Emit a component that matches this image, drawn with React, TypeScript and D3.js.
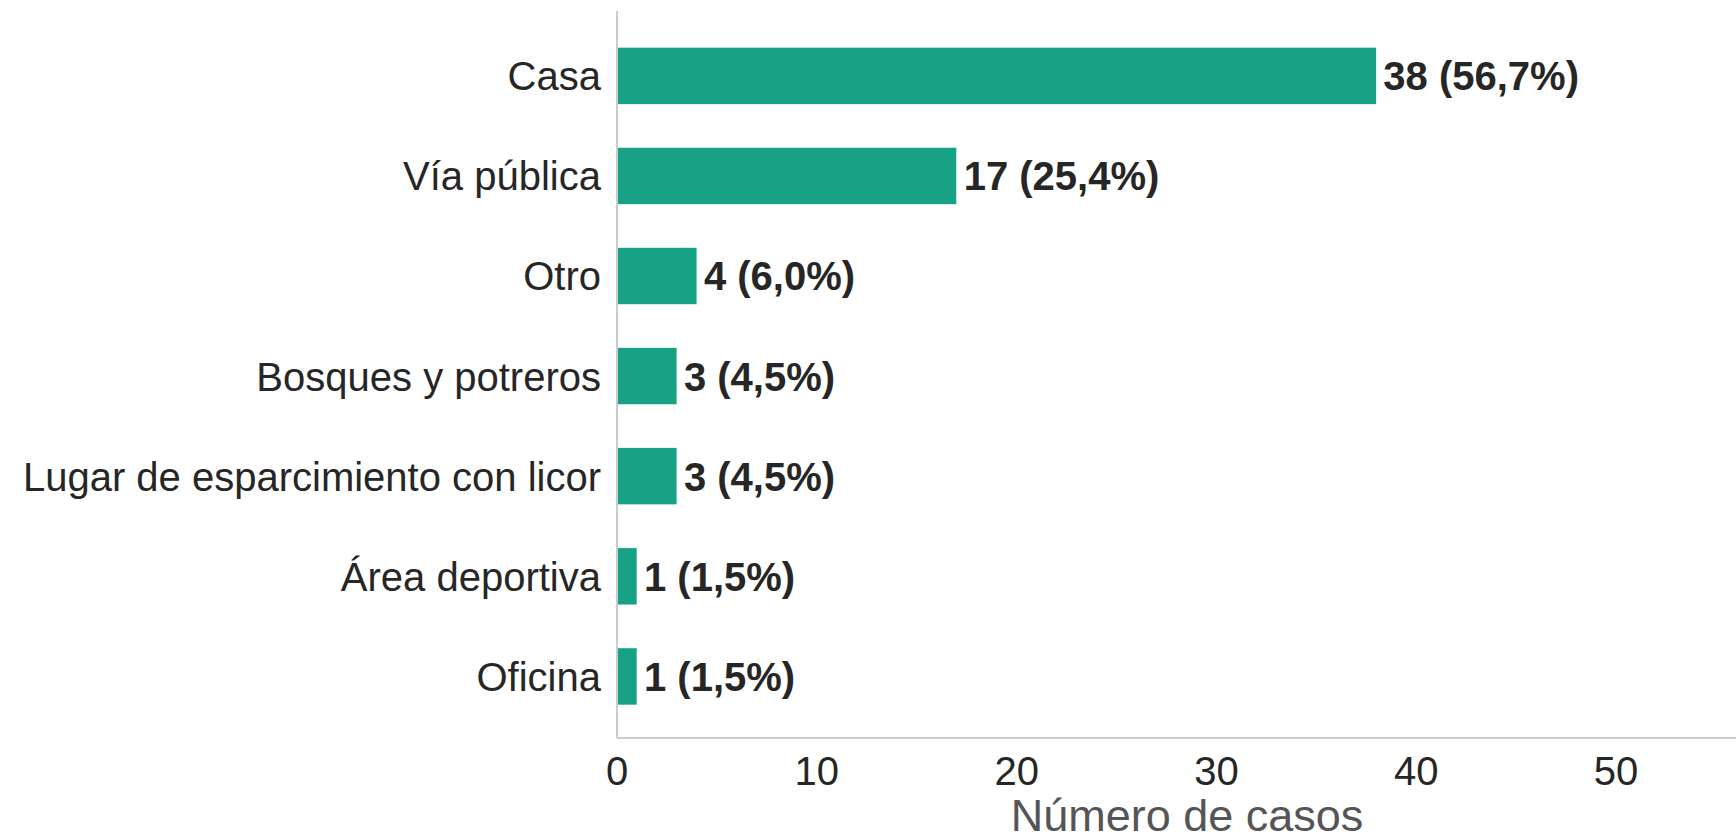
import { useEffect, useRef } from 'react'
import * as d3 from 'd3'

const categories = [
  'Casa',
  'Vía pública',
  'Otro',
  'Bosques y potreros',
  'Lugar de esparcimiento con licor',
  'Área deportiva',
  'Oficina',
]
const counts = [38, 17, 4, 3, 3, 1, 1]
const xTicks = [0, 10, 20, 30, 40, 50]

const W = 1736
const H = 838
const FONT = '"Liberation Sans", Arial, sans-serif'

export default function App() {
  const svgRef = useRef<SVGSVGElement | null>(null)

  useEffect(() => {
    if (!svgRef.current) return
    const svg = d3.select(svgRef.current)
    svg.selectAll('*').remove()

    const left = 617
    const top = 11
    const bottom = 738

    const total = d3.sum(counts)
    const data = categories.map((c, i) => ({ cat: c, n: counts[i], pct: (counts[i] / total) * 100 }))

    const x = d3.scaleLinear().domain([0, 56]).range([left, W])
    const y = d3.scaleBand<string>()
      .domain(categories)
      .range([25.75, 726.5])
      .paddingInner(0.43)
      .paddingOuter(0.215)

    // bars
    svg.append('g')
      .selectAll('rect')
      .data(data)
      .join('rect')
      .attr('x', x(0))
      .attr('y', d => y(d.cat)!)
      .attr('width', d => x(d.n) - x(0))
      .attr('height', y.bandwidth())
      .attr('fill', '#17a185')
      .attr('stroke', '#ffffff')
      .attr('stroke-width', 0.6)

    // value labels
    const fmt = d3.format('.1f')
    svg.append('g')
      .selectAll('text')
      .data(data)
      .join('text')
      .attr('x', d => x(d.n) + 7)
      .attr('y', d => y(d.cat)! + y.bandwidth() / 2)
      .attr('dy', '0.36em')
      .attr('font-family', FONT)
      .attr('font-size', 40)
      .attr('font-weight', 'bold')
      .attr('fill', '#262626')
      .text(d => `${d.n} (${fmt(d.pct).replace('.', ',')}%)`)

    // category labels
    svg.append('g')
      .selectAll('text')
      .data(data)
      .join('text')
      .attr('x', left - 16)
      .attr('y', d => y(d.cat)! + y.bandwidth() / 2)
      .attr('dy', '0.36em')
      .attr('text-anchor', 'end')
      .attr('font-family', FONT)
      .attr('font-size', 40)
      .attr('fill', '#262626')
      .text(d => d.cat)

    // spines
    svg.append('line')
      .attr('x1', left).attr('x2', left)
      .attr('y1', top).attr('y2', bottom)
      .attr('stroke', '#cccccc').attr('stroke-width', 2)
    svg.append('line')
      .attr('x1', left).attr('x2', W)
      .attr('y1', bottom).attr('y2', bottom)
      .attr('stroke', '#cccccc').attr('stroke-width', 2)

    // x tick labels
    svg.append('g')
      .selectAll('text')
      .data(xTicks)
      .join('text')
      .attr('x', d => x(d))
      .attr('y', 785)
      .attr('text-anchor', 'middle')
      .attr('font-family', FONT)
      .attr('font-size', 40)
      .attr('fill', '#262626')
      .text(d => d)

    svg.append('text')
      .attr('x', 1187)
      .attr('y', 831)
      .attr('text-anchor', 'middle')
      .attr('font-family', FONT)
      .attr('font-size', 45)
      .attr('fill', '#555555')
      .text('Número de casos')
  }, [])

  return (
    <svg
      ref={svgRef}
      width={W}
      height={H}
      style={{ position: 'absolute', left: 0, top: 0, background: '#ffffff' }}
    />
  )
}
